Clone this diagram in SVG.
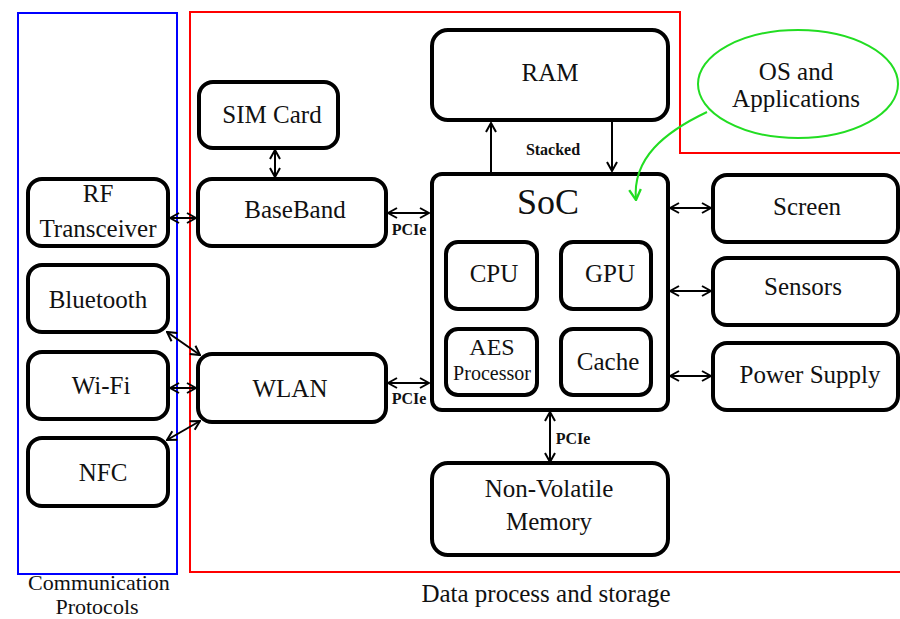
<svg xmlns="http://www.w3.org/2000/svg" width="900" height="619" viewBox="0 0 900 619">
<defs>
<marker id="ah" viewBox="0 0 12 12" refX="11" refY="6" markerWidth="12" markerHeight="12" markerUnits="userSpaceOnUse" orient="auto-start-reverse">
<path d="M2,1 L11,6 L2,11" fill="none" stroke="#000" stroke-width="2"/>
</marker>
<marker id="gh" viewBox="0 0 12 12" refX="11" refY="6" markerWidth="14" markerHeight="14" markerUnits="userSpaceOnUse" orient="auto">
<path d="M2,1 L11,6 L2,11" fill="none" stroke="#22dd22" stroke-width="2"/>
</marker>
</defs>
<style>
.n{fill:#fff;stroke:#000;stroke-width:4}
.t{font-family:"Liberation Serif","Times New Roman",serif;font-size:25px;fill:#111;text-anchor:middle}
.b{font-family:"Liberation Serif","Times New Roman",serif;font-size:16px;font-weight:bold;fill:#111;text-anchor:middle}
.c{fill:none;stroke:#000;stroke-width:2}
.d{marker-start:url(#ah);marker-end:url(#ah)}
.e{marker-end:url(#ah)}
</style>
<rect width="900" height="619" fill="#fff"/>
<g id="groups">
<rect x="18" y="13" width="159" height="561" fill="none" stroke="#0000ff" stroke-width="2"/>
<path d="M902,153 L680,153 L680,12 L190,12 L190,572 L902,572" fill="none" stroke="#ff0000" stroke-width="2"/>
<text class="t" x="99" y="590" style="font-size:22px">Communication</text>
<text class="t" x="97" y="614" style="font-size:22px">Protocols</text>
<text class="t" x="546" y="602">Data process and storage</text>
</g>
<g id="connectors">
<line class="c d" x1="275" y1="150" x2="275" y2="177"/>
<line class="c d" x1="170" y1="218" x2="196" y2="218"/>
<line class="c d" x1="388" y1="213" x2="429" y2="213"/>
<line class="c d" x1="167" y1="332" x2="200" y2="355"/>
<line class="c d" x1="170" y1="388" x2="196" y2="388"/>
<line class="c d" x1="167" y1="440" x2="200" y2="421"/>
<line class="c d" x1="388" y1="383" x2="429" y2="383"/>
<line class="c e" x1="491" y1="173" x2="491" y2="123"/>
<line class="c e" x1="612" y1="121" x2="612" y2="171"/>
<line class="c d" x1="670" y1="208" x2="711" y2="208"/>
<line class="c d" x1="670" y1="291" x2="711" y2="291"/>
<line class="c d" x1="670" y1="376" x2="711" y2="376"/>
<line class="c d" x1="550" y1="412" x2="550" y2="462"/>
<text class="b" x="553" y="155">Stacked</text>
<text class="b" x="409" y="235">PCIe</text>
<text class="b" x="409" y="404">PCIe</text>
<text class="b" x="573" y="444">PCIe</text>
</g>
<g id="ram"><rect class="n" x="432" y="30" width="236" height="90" rx="16"/><text class="t" x="550" y="81">RAM</text></g>
<g id="sim"><rect class="n" x="199" y="82" width="139" height="66" rx="14"/><text class="t" x="272" y="123">SIM Card</text></g>
<g id="rf"><rect class="n" x="28" y="179" width="140" height="67" rx="14"/><text class="t" x="98" y="202">RF</text><text class="t" x="98" y="237">Transceiver</text></g>
<g id="baseband"><rect class="n" x="198" y="179" width="188" height="67" rx="14"/><text class="t" x="295" y="218">BaseBand</text></g>
<g id="bluetooth"><rect class="n" x="28" y="265" width="140" height="67" rx="14"/><text class="t" x="98" y="308">Bluetooth</text></g>
<g id="wifi"><rect class="n" x="28" y="352" width="140" height="67" rx="14"/><text class="t" x="101" y="394">Wi-Fi</text></g>
<g id="nfc"><rect class="n" x="28" y="438" width="140" height="68" rx="14"/><text class="t" x="103" y="481">NFC</text></g>
<g id="wlan"><rect class="n" x="198" y="354" width="188" height="68" rx="14"/><text class="t" x="290" y="397">WLAN</text></g>
<g id="soc"><rect class="n" x="432" y="174" width="236" height="236" rx="10"/><text class="t" x="548" y="214" style="font-size:36px">SoC</text></g>
<g id="cpu"><rect class="n" x="446" y="242" width="91" height="67" rx="12"/><text class="t" x="494" y="282">CPU</text></g>
<g id="gpu"><rect class="n" x="561" y="242" width="90" height="67" rx="12"/><text class="t" x="610" y="282">GPU</text></g>
<g id="aes"><rect class="n" x="446" y="329" width="91" height="66" rx="12"/><text class="t" x="492" y="355" style="font-size:24px">AES</text><text class="t" x="492" y="380" style="font-size:20px">Processor</text></g>
<g id="cache"><rect class="n" x="561" y="329" width="90" height="66" rx="12"/><text class="t" x="608" y="370">Cache</text></g>
<g id="screen"><rect class="n" x="713" y="175" width="185" height="67" rx="14"/><text class="t" x="807" y="215">Screen</text></g>
<g id="sensors"><rect class="n" x="713" y="258" width="185" height="67" rx="14"/><text class="t" x="803" y="295">Sensors</text></g>
<g id="power"><rect class="n" x="713" y="343" width="185" height="67" rx="14"/><text class="t" x="810" y="383">Power Supply</text></g>
<g id="nvm"><rect class="n" x="432" y="463" width="236" height="92" rx="16"/><text class="t" x="549" y="497">Non-Volatile</text><text class="t" x="549" y="530">Memory</text></g>
<g id="os-link"><path d="M707,112 C665,132 632,158 636,200" fill="none" stroke="#22dd22" stroke-width="2" marker-end="url(#gh)"/></g>
<g id="os"><ellipse cx="798" cy="84" rx="100" ry="54" fill="#fff" stroke="#22dd22" stroke-width="2"/><text class="t" x="796" y="80">OS and</text><text class="t" x="796" y="107">Applications</text></g>
</svg>
